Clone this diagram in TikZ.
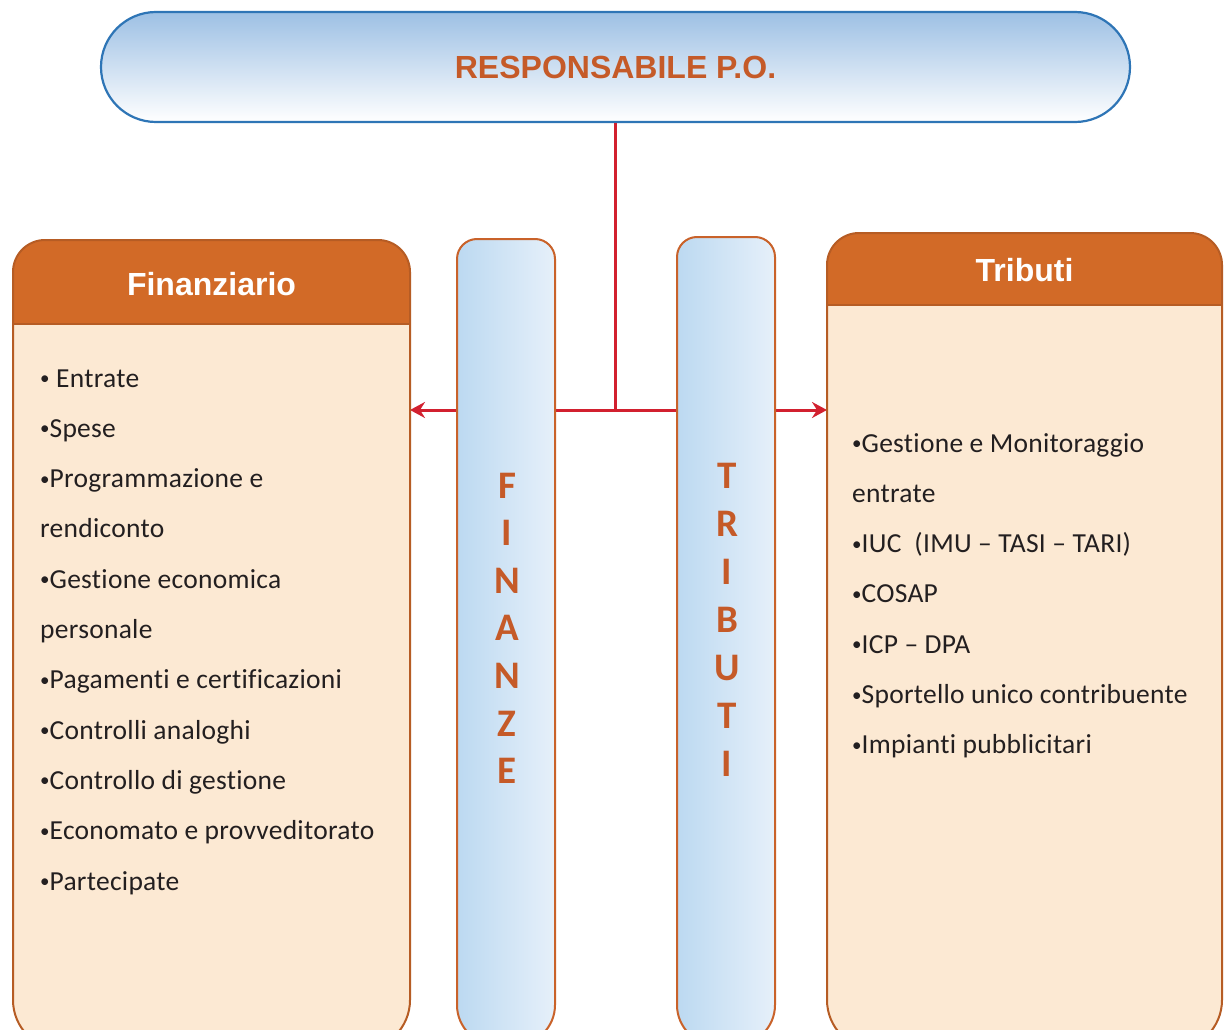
\documentclass[tikz,border=0pt]{standalone}
\usepackage{fontspec}
\setmainfont{Carlito}[Ligatures=CommonOff, LetterSpace=1.0]
\newfontfamily\hdfont{Liberation Sans}
\usetikzlibrary{arrows.meta}
\definecolor{pillblue}{HTML}{9DC0E4}
\definecolor{pillborder}{HTML}{2E75B6}
\definecolor{hdorange}{HTML}{D26A27}
\definecolor{boxborder}{HTML}{B65C24}
\definecolor{bodyfill}{HTML}{FCE9D3}
\definecolor{redline}{HTML}{D2202F}
\definecolor{txtorange}{HTML}{C55A28}
\definecolor{txtdark}{HTML}{231F20}
\definecolor{colleft}{HTML}{BCD9F1}
\definecolor{colright}{HTML}{E6F0FA}
\definecolor{colborder}{HTML}{C9622A}
\newcommand{\bul}{{\fontsize{19}{20}\selectfont\raisebox{2.5pt}{•}}}
\tikzset{
  pill/.style={draw=pillborder, line width=2.2pt, rounded corners=55pt,
    top color=pillblue, bottom color=white, minimum width=1029pt, minimum height=110pt,
    font=\hdfont\bfseries\fontsize{32}{38}\selectfont, text=txtorange, inner sep=0pt},
  hdtext/.style={font=\hdfont\bfseries\fontsize{32}{38}\selectfont, text=white, inner sep=0pt},
  listtext/.style={font=\fontsize{27.5}{32}\selectfont, text=txtdark, inner sep=0pt, anchor=base west},
  lettertext/.style={font=\bfseries\fontsize{39}{44}\selectfont, text=txtorange, inner sep=0pt, anchor=base},
  boxframe/.style={draw=boxborder, line width=2pt},
  colframe/.style={draw=colborder, line width=2pt, left color=colleft, right color=colright},
  conn/.style={draw=redline, line width=3pt},
  tip/.style={-{Stealth[length=15pt, width=16pt, inset=5pt]}},
  area/.style={minimum width=#1, minimum height=810pt, inner sep=0pt, outer sep=0pt}
}
\begin{document}
\begin{tikzpicture}[x=1pt, y=-1pt]
\useasboundingbox (0,0) rectangle (1224,1030);
\fill[white] (0,0) rectangle (1224,1030);

% invisible areas of the two boxes
\node[area=397pt] (fin) at (211.5,645) {};
\node[area=395pt] (tri) at (1024.5,641.5) {};

% top pill
\node[pill] (resp) at (615.5,67) {RESPONSABILE P.O.};

% connectors
\coordinate (jn) at (615,410);
\draw[conn] (resp.south -| jn) -- (jn);
\draw[conn, tip] (jn) -- (fin.east |- jn);
\draw[conn, tip] (jn) -- (tri.west |- jn);

% columns
\shadedraw[colframe] (457,600) [rounded corners=20pt] -- (457,239) -- (555,239) -- (555,600) [rounded corners=40pt] -- (555,1045) -- (457,1045) -- cycle;
\shadedraw[colframe] (677,600) [rounded corners=20pt] -- (677,237) -- (775,237) -- (775,600) [rounded corners=40pt] -- (775,1045) -- (677,1045) -- cycle;

\foreach \l [count=\i] in {F,I,N,A,N,Z,E}
  \node[lettertext] (colf\i) at (507,{498+47.6*(\i-1)}) {\l};
\foreach \l [count=\i] in {T,R,I,B,U,T,I}
  \node[lettertext] (colt\i) at (727,{488+48*(\i-1)}) {\l};

% left box
\fill[bodyfill] (13,600) [rounded corners=32pt] -- (13,240) -- (410,240) -- (410,600) [rounded corners=50pt] -- (410,1050) -- (13,1050) -- cycle;
\fill[hdorange] (13,300) [rounded corners=32pt] -- (13,240) -- (410,240) -- (410,300) [sharp corners] -- (410,324) -- (13,324) -- cycle;
\draw[boxframe] (13,324) -- (410,324);
\draw[boxframe] (13,600) [rounded corners=32pt] -- (13,240) -- (410,240) -- (410,600) [rounded corners=50pt] -- (410,1050) -- (13,1050) -- cycle;
\node[hdtext] (finhd) at (211.5,284) {Finanziario};

% right box
\fill[bodyfill] (827,600) [rounded corners=32pt] -- (827,233) -- (1222,233) -- (1222,600) [rounded corners=50pt] -- (1222,1050) -- (827,1050) -- cycle;
\fill[hdorange] (827,290) [rounded corners=32pt] -- (827,233) -- (1222,233) -- (1222,290) [sharp corners] -- (1222,305) -- (827,305) -- cycle;
\draw[boxframe] (827,305) -- (1222,305);
\draw[boxframe] (827,600) [rounded corners=32pt] -- (827,233) -- (1222,233) -- (1222,600) [rounded corners=50pt] -- (1222,1050) -- (827,1050) -- cycle;
\node[hdtext] (trihd) at (1024.5,270) {Tributi};

% lists
\foreach \t [count=\i] in {{\bul\ Entrate},{\bul Spese},{\bul Programmazione e},{rendiconto},{\bul Gestione economica},{personale},{\bul Pagamenti e certificazioni},{\bul Controlli analoghi},{\bul Controllo di gestione},{\bul Economato e provveditorato},{\bul Partecipate}}
  \node[listtext] (finl\i) at (40,{387+50.3*(\i-1)}) {\t};
\foreach \t [count=\i] in {{\bul Gestione e Monitoraggio},{entrate},{\bul IUC\ \ (IMU – TASI – TARI)},{\bul COSAP},{\bul ICP – DPA},{\bul Sportello unico contribuente},{\bul Impianti pubblicitari}}
  \node[listtext] (tril\i) at (852,{452+50.3*(\i-1)}) {\t};
\end{tikzpicture}
\end{document}
